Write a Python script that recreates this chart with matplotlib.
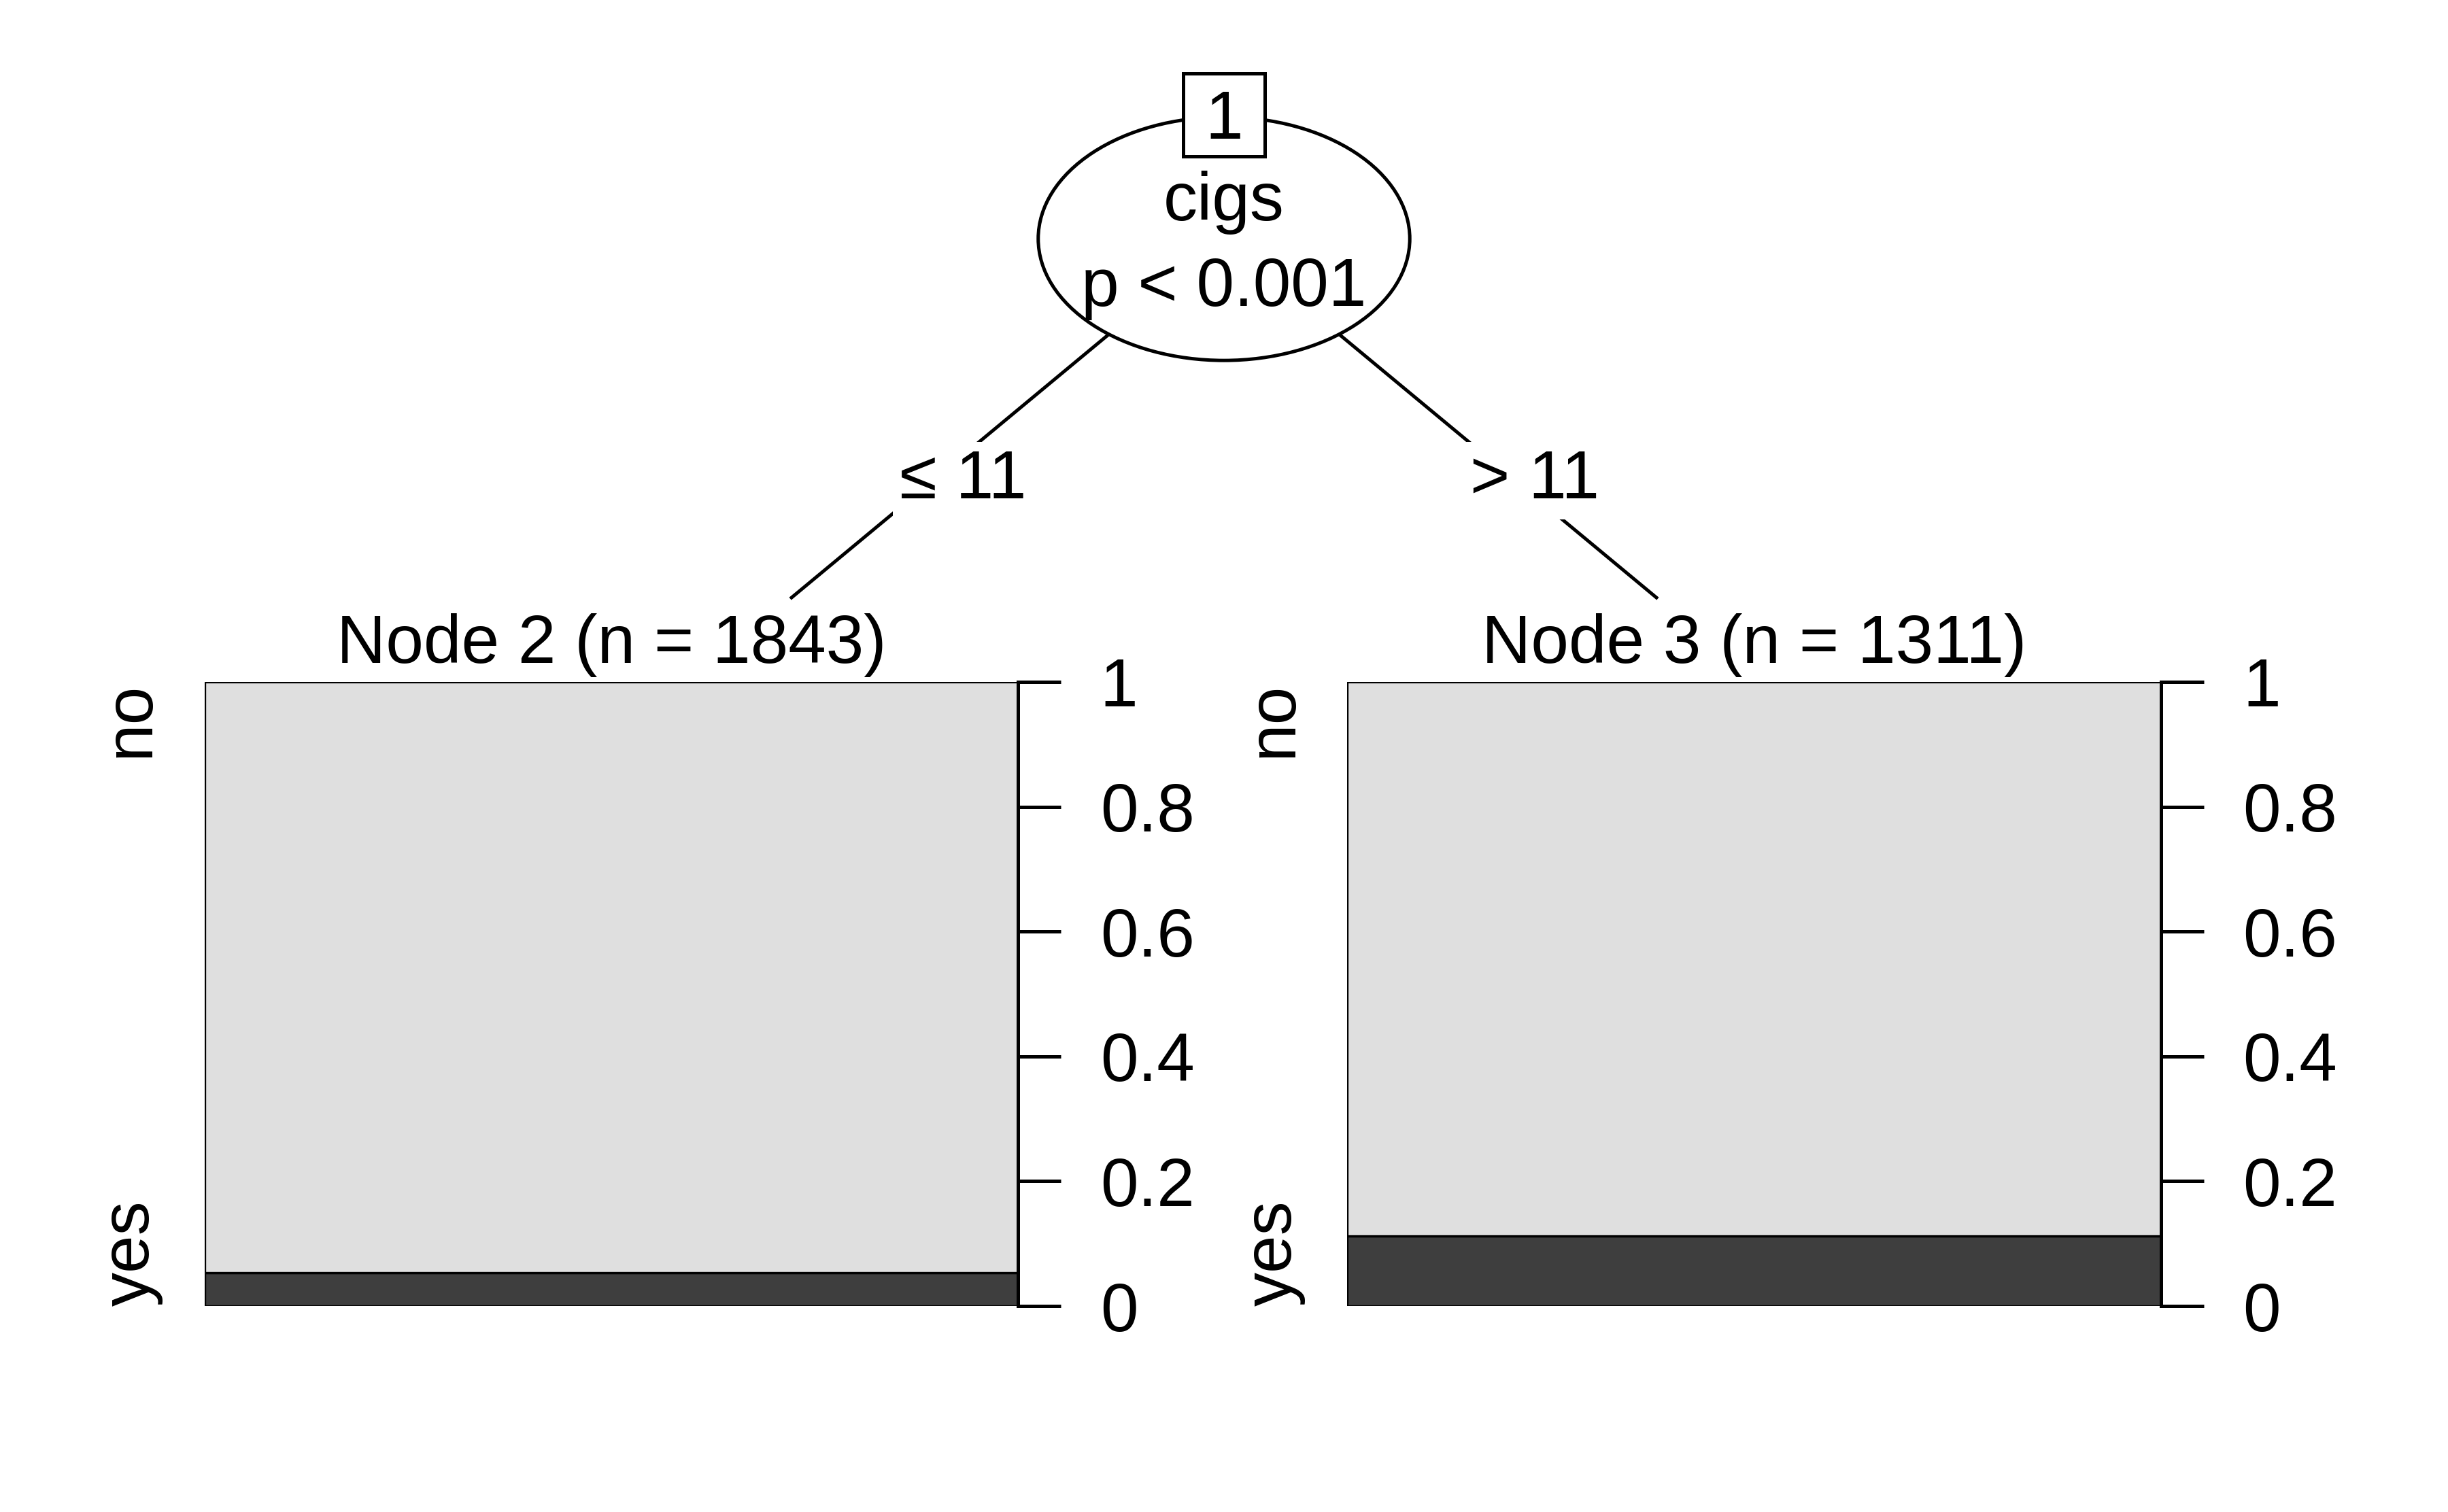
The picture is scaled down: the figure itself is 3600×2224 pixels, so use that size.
import matplotlib
matplotlib.use("Agg")
import matplotlib.pyplot as plt
from matplotlib.patches import Ellipse, Rectangle

plt.rcParams["font.family"] = ["Liberation Sans", "DejaVu Sans"]

# tree content
split_var = "cigs"
split_pval = "p < 0.001"
split_labels = ["\u2264 11", "> 11"]
node_ids = [2, 3]
node_n = [1843, 1311]
levels = ["no", "yes"]
prop_yes = [0.053, 0.112]
tick_vals = [0, 0.2, 0.4, 0.6, 0.8, 1]
tick_labels = ["0", "0.2", "0.4", "0.6", "0.8", "1"]

LIGHT = "#dfdfdf"
DARK = "#3e3e3e"
FS = 24
LW = 1.2

W, H = 1568.0, 969.0  # layout frame (reference units)
fig = plt.figure(figsize=(12, 2224 / 300), dpi=300)

# overlay for the tree skeleton
tree = fig.add_axes([0, 0, 1, 1])
tree.set_xlim(0, W)
tree.set_ylim(H, 0)
tree.axis("off")
tree.patch.set_alpha(0)

root = (784, 153)
child_tops = [(507, 383), (1061, 383)]
label_pos = [(617, 308), (983, 308)]
for (cx, cy), (lx, ly), lab in zip(child_tops, label_pos, split_labels):
    tree.plot([root[0], cx], [root[1], cy], color="black", lw=LW, zorder=1)
    tree.text(lx, ly, lab, fontsize=FS, ha="center", va="center", zorder=3,
              bbox=dict(boxstyle="square,pad=0.1", fc="white", ec="none"))

tree.add_patch(Ellipse(root, 238, 156, fc="white", ec="black", lw=LW, zorder=2))
tree.add_patch(Rectangle((758, 47), 52, 53, fc="white", ec="black", lw=LW, zorder=3))
tree.text(784, 89, "1", fontsize=FS, ha="center", va="baseline", zorder=4)
tree.text(784, 141, split_var, fontsize=FS, ha="center", va="baseline", zorder=4)
tree.text(784, 196, split_pval, fontsize=FS, ha="center", va="baseline", zorder=4)

# terminal node bar panels
panel_x = [131, 863]
panel_w = 521
panel_top, panel_bot = 437, 837
for px, nid, n, py in zip(panel_x, node_ids, node_n, prop_yes):
    ax = fig.add_axes([px / W, 1 - panel_bot / H, panel_w / W, (panel_bot - panel_top) / H])
    ax.bar(0.5, py, width=1, bottom=0, color=DARK, edgecolor="black", lw=0.8)
    ax.bar(0.5, 1 - py, width=1, bottom=py, color=LIGHT, edgecolor="black", lw=0.8)
    ax.set_xlim(0, 1)
    ax.set_ylim(0, 1)
    for side in ["left", "top", "bottom"]:
        ax.spines[side].set_visible(False)
    ax.spines["right"].set_linewidth(LW)
    ax.spines["right"].set_bounds(0, 1)
    ax.set_xticks([])
    ax.yaxis.tick_right()
    ax.set_yticks(tick_vals)
    ax.set_yticklabels(tick_labels)
    ax.tick_params(axis="y", direction="out", length=15, width=LW, pad=14, labelsize=FS)
    ax.patch.set_alpha(0)

    # level labels on the left
    ax.annotate(levels[0], xy=(0, 1), xycoords="axes fraction", xytext=(-26, 0),
                textcoords="offset points", rotation=90, ha="center", va="top", fontsize=FS)
    ax.annotate(levels[1], xy=(0, 0), xycoords="axes fraction", xytext=(-26, 0),
                textcoords="offset points", rotation=90, ha="center", va="bottom", fontsize=FS)

    tree.text(px + panel_w / 2, 425, f"Node {nid} (n = {n})", fontsize=FS,
              ha="center", va="baseline")

fig.savefig("out.png", dpi=300, facecolor="white")
